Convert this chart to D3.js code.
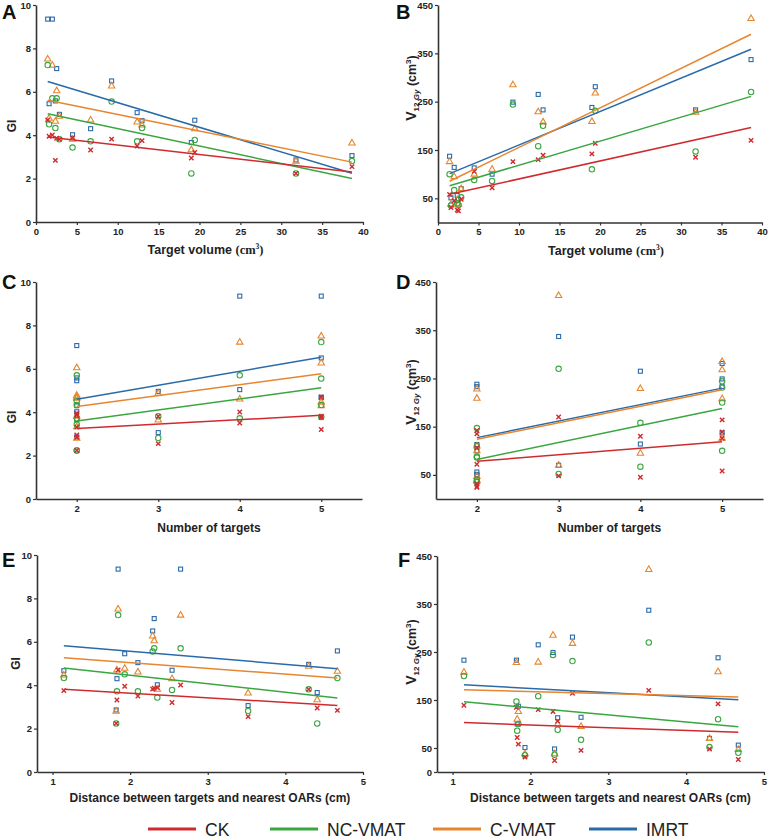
<!DOCTYPE html>
<html><head><meta charset="utf-8">
<script src="https://cdn.jsdelivr.net/npm/d3@7"></script>
<style>
body{margin:0;background:#fff}
svg{display:block}
text{font-family:"Liberation Sans",Arial,sans-serif}
</style>
</head><body>
<svg id="chart" width="770" height="840"></svg>
<script>
// ---------- DATA (15 patients) ----------
const seriesNames = ["CK","NC-VMAT","C-VMAT","IMRT"];
const targetVolume = [1.43,1.6,2.0,2.37,2.53,2.86,4.47,6.68,9.25,12.37,12.97,19.0,19.42,31.8,38.65];
const numTargets   = [5,2,4,2,2,3,2,2,5,4,5,2,5,2,3];
const distanceOAR  = [1.845,1.93,2.65,4.67,2.31,4.30,2.35,1.83,2.29,2.10,1.146,4.41,2.54,1.82,3.52];

const giCK    = [4.70,3.95,4.01,2.84,3.86,3.81,3.89,3.32,3.82,3.50,3.75,2.95,3.20,2.24,2.55];
const giNC    = [7.23,4.50,5.70,4.33,5.70,3.81,3.43,3.72,5.55,3.72,4.33,2.24,3.78,2.24,2.81];
const giCV    = [7.51,4.78,7.23,4.64,6.05,4.87,3.81,4.70,6.27,4.61,4.47,3.33,4.30,2.80,3.64];
const giIMRT  = [9.35,5.45,9.35,5.58,7.07,4.96,4.02,4.30,6.50,5.04,4.67,3.66,4.69,2.86,3.06];

const v12CK   = [58,31,45,26,24,48,106,72,126,130,139,142,164,135,170];
const v12NC   = [100,35,67,40,36,52,88,86,244,158,200,110,231,147,270];
const v12CV   = [126,38,95,47,38,70,100,110,285,229,208,209,268,228,422];
const v12IMRT = [137,51,114,56,48,70,113,100,249,265,233,238,281,233,337];

const giTicks     = [0,2,4,6,8,10];
const v12Ticks    = [50,150,250,350,450];
const v12TicksF   = [0,50,150,250,350,450];
const volumeTicks = [0,5,10,15,20,25,30,35,40];
const targetTicks = [2,3,4,5];
const distTicks   = [1,2,3,4,5];

// ---------- STYLE ----------
const colors = {"CK":"#cf2b2e","NC-VMAT":"#3aa640","C-VMAT":"#e7862f","IMRT":"#2b6aa8"};
const shapes = {"CK":"cross","NC-VMAT":"circle","C-VMAT":"triangle","IMRT":"square"};
const giSeries  = {"CK":giCK,"NC-VMAT":giNC,"C-VMAT":giCV,"IMRT":giIMRT};
const v12Series = {"CK":v12CK,"NC-VMAT":v12NC,"C-VMAT":v12CV,"IMRT":v12IMRT};

const svg = d3.select("#chart");

const panels = [
  {L:"A",lx:2,ly:19, x:targetVolume, xd:[0,40],   xr:[36,363],  yd:[0,10],  yr:[222,5],   xt:volumeTicks, yt:giTicks,  ys:giSeries,  xtitle:"vol", ylab:"GI"},
  {L:"B",lx:396,ly:19,x:targetVolume, xd:[0,40],  xr:[438,762], yd:[0,450], yr:[222.5,5], xt:volumeTicks, yt:v12Ticks, ys:v12Series, xtitle:"vol", ylab:"V"},
  {L:"C",lx:2,ly:289, x:numTargets, xd:[1.5,5.5], xr:[36,362],  yd:[0,10],  yr:[499,282], xt:targetTicks, yt:giTicks,  ys:giSeries,  xtitle:"num", ylab:"GI"},
  {L:"D",lx:396,ly:289,x:numTargets, xd:[1.5,5.5],xr:[436,763], yd:[0,450], yr:[499,282], xt:targetTicks, yt:v12Ticks, ys:v12Series, xtitle:"num", ylab:"V"},
  {L:"E",lx:2,ly:567, x:distanceOAR, xd:[0.8,5],  xr:[37,363],  yd:[0,10],  yr:[772,555], xt:distTicks,   yt:giTicks,  ys:giSeries,  xtitle:"dist", ylab:"GI"},
  {L:"F",lx:398,ly:567,x:distanceOAR, xd:[0.8,5], xr:[437,764], yd:[0,450], yr:[772,556], xt:distTicks,   yt:v12TicksF,ys:v12Series, xtitle:"dist", ylab:"V"}
];

function linreg(xs, ys){
  const n = xs.length, mx = d3.mean(xs), my = d3.mean(ys);
  let sxy=0, sxx=0;
  for(let i=0;i<n;i++){ sxy+=(xs[i]-mx)*(ys[i]-my); sxx+=(xs[i]-mx)**2; }
  const b = sxy/sxx, a = my - b*mx;
  const [x0,x1] = d3.extent(xs);
  return [[x0,a+b*x0],[x1,a+b*x1]];
}

function marker(g, shape, color){
  if(shape==="circle") g.append("circle").attr("r",2.7).attr("fill","none").attr("stroke",color).attr("stroke-width",1.1);
  else if(shape==="square") g.append("rect").attr("x",-2).attr("y",-2).attr("width",4).attr("height",4).attr("fill","none").attr("stroke",color).attr("stroke-width",1.1);
  else if(shape==="triangle") g.append("path").attr("d","M0,-3.6L3.2,2L-3.2,2Z").attr("fill","none").attr("stroke",color).attr("stroke-width",1.1);
  else g.append("path").attr("d","M-2.2,-2.2L2.2,2.2M-2.2,2.2L2.2,-2.2").attr("fill","none").attr("stroke",color).attr("stroke-width",1.4);
}

const drawOrder = ["IMRT","C-VMAT","NC-VMAT","CK"];
const fmt = d3.format("d");

panels.forEach(p=>{
  const x = d3.scaleLinear().domain(p.xd).range(p.xr);
  const y = d3.scaleLinear().domain(p.yd).range(p.yr);
  const g = svg.append("g");

  // axes
  const ax = g.append("g").attr("transform",`translate(0,${p.yr[0]})`)
    .call(d3.axisBottom(x).tickValues(p.xt).tickFormat(fmt).tickSize(3).tickSizeOuter(0).tickPadding(3));
  const ay = g.append("g").attr("transform",`translate(${p.xr[0]},0)`)
    .call(d3.axisLeft(y).tickValues(p.yt).tickFormat(fmt).tickSize(3).tickSizeOuter(0).tickPadding(2));
  [ax,ay].forEach(a=>{
    a.select(".domain").attr("stroke","#333").attr("stroke-width",1.6);
    a.selectAll(".tick line").attr("stroke","#333").attr("stroke-width",1.2);
    a.selectAll(".tick text").attr("font-family","'Liberation Sans',Arial,sans-serif")
      .attr("font-size",9.5).attr("font-weight","bold").attr("fill","#222");
  });

  // points
  drawOrder.forEach(s=>{
    const vals = p.ys[s];
    vals.forEach((v,i)=>{
      const m = g.append("g").attr("transform",`translate(${x(p.x[i])},${y(v)})`);
      marker(m, shapes[s], colors[s]);
    });
  });
  // regression lines
  drawOrder.forEach(s=>{
    const seg = linreg(p.x, p.ys[s]);
    g.append("line").attr("x1",x(seg[0][0])).attr("y1",y(seg[0][1]))
      .attr("x2",x(seg[1][0])).attr("y2",y(seg[1][1]))
      .attr("stroke",colors[s]).attr("stroke-width",1.5);
  });

  // panel letter
  svg.append("text").attr("x",p.lx).attr("y",p.ly).attr("font-size",20).attr("font-weight","bold")
    .attr("fill","#111").text(p.L);

  // x title
  const cx = (p.xr[0]+p.xr[1])/2 + 4;
  const xt = svg.append("text").attr("text-anchor","middle").attr("font-weight","bold").attr("fill","#222");
  if(p.xtitle==="vol"){
    xt.attr("x",cx+2).attr("y",p.yr[0]+32).attr("font-size",12.5);
    xt.append("tspan").text("Target volume ");
    xt.append("tspan").attr("font-family","'Liberation Serif','Times New Roman',serif").text("(cm");
    xt.append("tspan").attr("font-family","'Liberation Serif','Times New Roman',serif").attr("font-size",7.5).attr("dy",-5).text("3");
    xt.append("tspan").attr("font-family","'Liberation Serif','Times New Roman',serif").attr("dy",5).text(")");
  } else if(p.xtitle==="num"){
    xt.attr("x",cx+6).attr("y",p.yr[0]+33).attr("font-size",12).text("Number of targets");
  } else {
    xt.attr("x",cx+6).attr("y",p.yr[0]+30).attr("font-size",12).text("Distance between targets and nearest OARs (cm)");
  }

  // y title
  const yc = (p.yr[0]+p.yr[1])/2;
  if(p.ylab==="GI"){
    const yx = p.L==="E" ? 20 : 16;
    const yy = p.L==="A" ? 126 : (p.L==="C" ? 417 : yc);
    svg.append("text").attr("transform",`translate(${yx},${yy}) rotate(-90)`).attr("text-anchor","middle")
      .attr("font-size",12).attr("font-weight","bold").attr("fill","#222").text("GI");
  } else {
    const yy = p.L==="B" ? 88 : (p.L==="D" ? 392 : 652);
    const t = svg.append("text").attr("transform",`translate(416,${yy}) rotate(-90)`).attr("text-anchor","middle")
      .attr("font-weight","bold").attr("fill","#222").attr("font-size",12.5);
    t.append("tspan").attr("font-size",14).text("V");
    t.append("tspan").attr("font-size",8).attr("dy",3).text("12 ");
    t.append("tspan").attr("font-size",8).attr("font-style","italic").text("Gy");
    t.append("tspan").attr("dy",-3).text(" (cm");
    t.append("tspan").attr("font-size",8).attr("dy",-5).text("3");
    t.append("tspan").attr("dy",5).text(")");
  }
});

// legend
const legendX = [148,270,433,589];
seriesNames.forEach((s,i)=>{
  const lg = svg.append("g");
  lg.append("line").attr("x1",legendX[i]).attr("x2",legendX[i]+48).attr("y1",829).attr("y2",829)
    .attr("stroke",colors[s]).attr("stroke-width",3);
  lg.append("text").attr("x",legendX[i]+57).attr("y",836).attr("font-size",17.5).attr("fill","#222").text(s);
});
</script>
</body></html>
